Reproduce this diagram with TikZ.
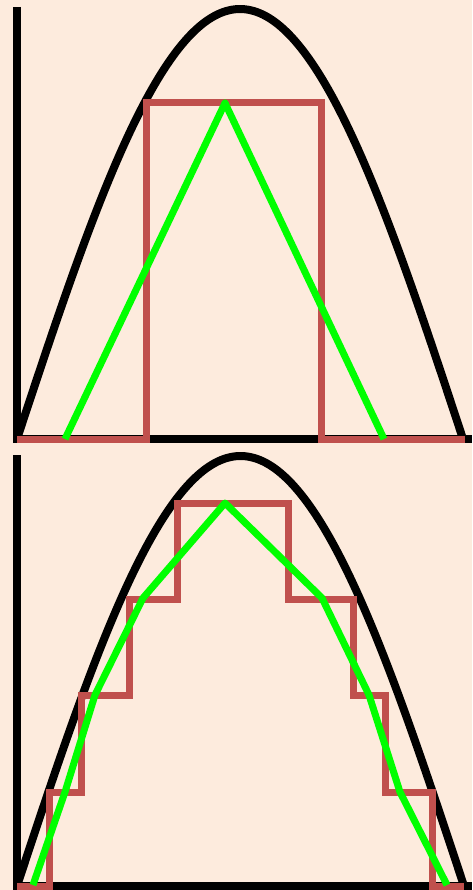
\documentclass[tikz,border=0pt]{standalone}
\definecolor{bg}{RGB}{253,235,221}
\definecolor{redc}{RGB}{192,80,77}
\definecolor{greenc}{RGB}{0,255,0}
\begin{document}
\begin{tikzpicture}[x=1pt,y=-1pt,
  axis/.style={line width=8pt,black},
  curve/.style={line width=8pt,black},
  redstep/.style={line width=7pt,redc},
  greenline/.style={line width=7pt,greenc,line join=round}]
\fill[bg] (0,0) rectangle (472,890);
\useasboundingbox (0,0) rectangle (472,890);
% top panel
\draw[axis] (17,7) -- (17,443);
\draw[axis] (13,439) -- (472,439);
\draw[curve,domain=0:446,samples=150] plot ({17+\x},{439-430*sin(0.403587*\x)});
\draw[redstep] (17,439) -- (146,439) -- (146,103) -- (321,103) -- (321,439) -- (465,439);
\draw[greenline] (65,439) -- (225,103) -- (384,439);
% bottom panel
\draw[axis] (17,455) -- (17,890);
\draw[axis] (13,886) -- (472,886);
\draw[curve,domain=0:447,samples=150] plot ({17+\x},{886-430*sin(0.402685*\x)});
\draw[redstep] (17,886) -- (49,886) -- (49,792) -- (81,792) -- (81,695) -- (129,695) -- (129,599) -- (177,599) -- (177,503) -- (288,503) -- (288,599) -- (353,599) -- (353,695) -- (385,695) -- (385,792) -- (432,792) -- (432,886) -- (464,886);
\draw[greenline] (33,885) -- (65,792) -- (95,695) -- (143,598) -- (225,503) -- (322,598) -- (369,695) -- (400,792) -- (447,885);
\end{tikzpicture}
\end{document}
